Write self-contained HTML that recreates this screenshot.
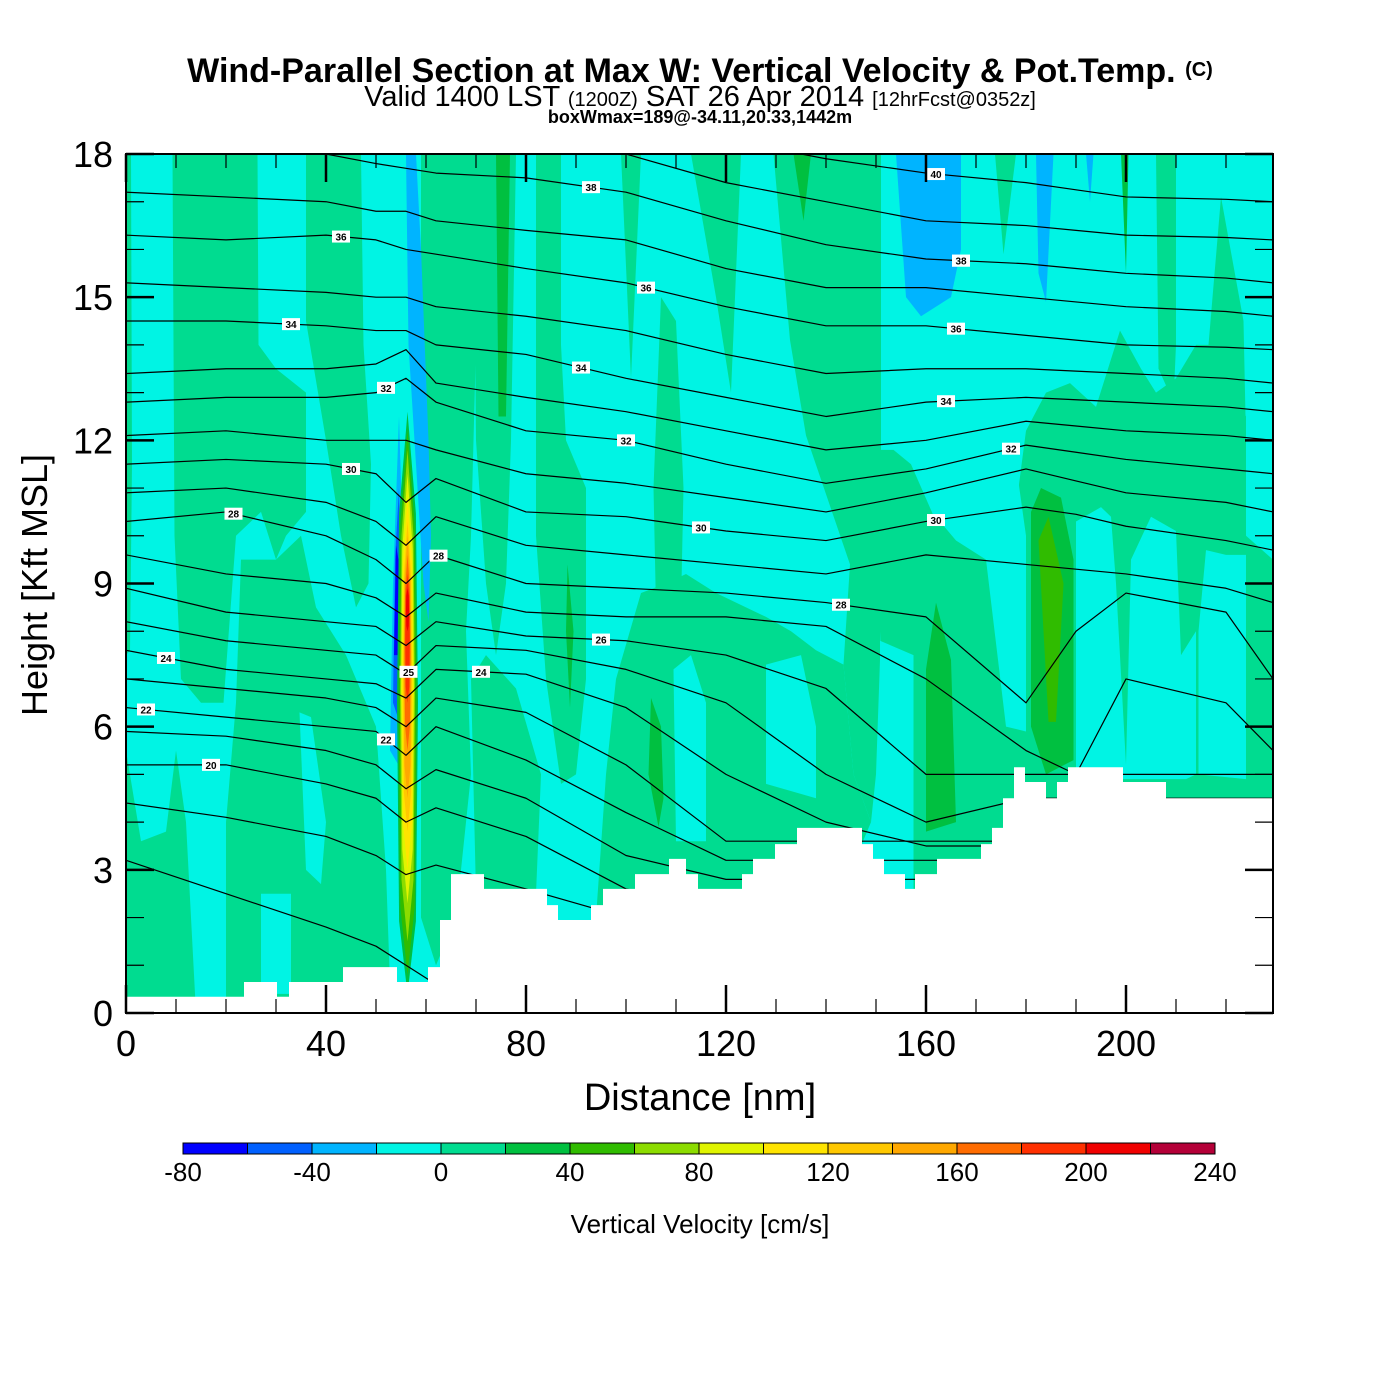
<!DOCTYPE html>
<html><head><meta charset="utf-8"><style>
html,body{margin:0;padding:0;background:#fff;}
svg{display:block;font-family:"Liberation Sans",sans-serif;}
</style></head><body>
<svg id="chart" width="1400" height="1400" viewBox="0 0 1400 1400" xmlns="http://www.w3.org/2000/svg">
<text x="700" y="82" text-anchor="middle" font-size="34" font-weight="bold">Wind-Parallel Section at Max W: Vertical Velocity &amp; Pot.Temp. <tspan font-size="20" dy="-6">(C)</tspan></text>
<text x="700" y="106" text-anchor="middle" font-size="29">Valid 1400 LST <tspan font-size="20">(1200Z)</tspan> SAT 26 Apr 2014 <tspan font-size="20">[12hrFcst@0352z]</tspan></text>
<text x="700" y="123" text-anchor="middle" font-size="18" font-weight="bold">boxWmax=189@-34.11,20.33,1442m</text>
<defs><clipPath id="plotclip"><rect x="126" y="154" width="1147" height="859"/></clipPath></defs>
<g id="field" clip-path="url(#plotclip)"></g>
<g id="contours" clip-path="url(#plotclip)"></g>
<g id="terrain" clip-path="url(#plotclip)"></g>
<g id="labels"></g>
<rect x="126" y="154" width="1147" height="859" fill="none" stroke="#000" stroke-width="2"/>
<g id="axes"></g>
<text x="700" y="1110" text-anchor="middle" font-size="38">Distance [nm]</text>
<text transform="translate(47,585) rotate(-90)" text-anchor="middle" font-size="36">Height [Kft MSL]</text>
<g id="colorbar"></g>
<text x="700" y="1233" text-anchor="middle" font-size="26">Vertical Velocity [cm/s]</text>
</svg>
<script>
const NS="http://www.w3.org/2000/svg";
const xMax=229.4, yMax=18;
const xTicks=[0,40,80,120,160,200];
const yTicks=[0,3,6,9,12,15,18];
const cbLevels=[-80,-60,-40,-20,0,20,40,60,80,100,120,140,160,180,200,220,240];
const cbColors=["#0000ff","#0060ff","#00b4ff","#00f4e4","#00dc90","#00c040","#30bc00","#8cdc00","#e0f400","#ffe400","#ffc800","#ffa800","#ff6c00","#ff3000","#f00000","#b40038"];
const cbTickValues=[-80,-40,0,40,80,120,160,200,240];
// terrain steps: edge distances (nm) and heights (kft)
const terrainEdges=[0,23.6,30.2,32.6,43.4,54.2,60.4,62.6,62.8,65,71.6,84.2,86.4,93,95.4,101.8,108.6,112,114.4,123.2,125.4,129.8,134.2,147.2,149.4,151.6,155.8,157.8,162.2,171,173.2,175.4,177.6,179.8,184,186.2,188.4,190.6,199.4,208,229.4];
const terrainHeights=[0.34,0.65,0.34,0.65,0.96,0.65,0.96,0.96,1.95,2.91,2.6,2.26,1.95,2.26,2.6,2.91,3.23,2.91,2.6,2.91,3.23,3.54,3.88,3.54,3.23,2.91,2.6,2.91,3.23,3.54,3.88,4.5,5.15,4.84,4.5,4.84,5.15,5.15,4.84,4.5];
// theta contour sample distances and heights per level
const thetaDist=[0,20,40,50,56,62,80,100,120,140,160,180,190,200,220,229.4];
const thetaLevels=[18,19,20,21,22,23,24,25,26,27,28,29,30,31,32,33,34,35,36,37,38,39,40];
const thetaHeights=[
[3.2,2.5,1.8,1.4,1.0,0.6,0,0,0,0,0,0,0,0,0,0],
[4.4,4.1,3.7,3.3,2.9,3.1,2.6,2.0,1.5,1.5,1.5,1.5,1.5,1.5,1.5,1.5],
[5.2,5.2,4.8,4.5,4.0,4.3,3.7,2.6,2.2,2.2,2.2,2.2,2.2,2.2,2.2,2.2],
[5.9,5.8,5.5,5.2,4.7,5.1,4.5,3.3,2.8,2.8,2.8,2.8,2.8,2.8,2.8,2.8],
[6.4,6.2,6.0,5.9,5.4,6.0,5.3,4.2,3.2,3.2,3.2,3.2,3.2,3.2,3.2,3.2],
[7.0,6.8,6.6,6.4,6.0,6.6,6.3,5.2,3.6,3.6,3.6,3.6,3.6,3.6,3.6,3.6],
[7.6,7.2,7.0,6.9,6.6,7.2,7.1,6.4,5.0,4.0,3.5,3.5,3.5,4.0,4.0,4.0],
[8.2,7.8,7.6,7.5,7.1,7.7,7.6,7.2,6.5,5.0,4.0,4.5,4.5,4.5,4.5,4.5],
[8.9,8.4,8.2,8.1,7.7,8.2,7.9,7.8,7.5,6.8,5.0,5.0,5.0,5.0,5.0,5.0],
[9.6,9.2,9.0,8.7,8.3,8.8,8.4,8.3,8.3,8.1,7.0,5.5,5.0,7.0,6.5,5.5],
[10.3,10.5,10.0,9.5,9.0,9.6,9.0,8.9,8.8,8.6,8.3,6.5,8.0,8.8,8.4,7.0],
[10.9,11.0,10.7,10.3,9.8,10.4,9.8,9.6,9.4,9.2,9.6,9.4,9.3,9.2,8.9,8.6],
[11.5,11.6,11.5,11.3,10.7,11.2,10.5,10.4,10.1,9.9,10.3,10.6,10.45,10.2,9.9,9.7],
[12.1,12.2,12.0,12.0,12.0,11.8,11.3,11.1,10.8,10.5,10.9,11.4,11.15,10.9,10.7,10.5],
[12.8,12.9,12.9,13.0,13.3,12.8,12.2,12.0,11.5,11.1,11.4,11.9,11.75,11.6,11.4,11.3],
[13.4,13.5,13.5,13.6,13.9,13.2,12.9,12.6,12.2,11.8,12.0,12.4,12.3,12.2,12.1,12.0],
[14.5,14.5,14.4,14.3,14.3,14.0,13.8,13.3,12.9,12.5,12.8,12.9,12.85,12.8,12.7,12.6],
[15.3,15.2,15.1,15.0,15.0,14.8,14.6,14.3,13.8,13.4,13.5,13.5,13.45,13.4,13.3,13.2],
[16.3,16.2,16.3,16.2,16.0,15.9,15.6,15.3,14.8,14.4,14.4,14.2,14.1,14.0,13.95,13.9],
[17.2,17.1,17.0,16.8,16.8,16.6,16.4,16.2,15.6,15.2,15.2,15.0,14.9,14.8,14.7,14.6],
[18.1,18.0,18.0,17.8,17.7,17.6,17.5,17.2,16.6,16.1,15.8,15.7,15.6,15.5,15.4,15.3],
[19,19,18.9,18.7,18.6,18.5,18.4,18.0,17.4,17.0,16.6,16.5,16.4,16.3,16.25,16.2],
[20,20,19.8,19.6,19.5,19.4,19.3,18.9,18.3,17.9,17.6,17.4,17.25,17.1,17.05,17.0]];
// contour labels: level and distance
const labelLevels=[20,22,24,28,30,32,34,36,38,40,38,36,34,32,30,28,26,24,28,32,34,36,38,30,22,25];
const labelDists=[17,4,8,21.5,45,52,33,43,93,162,167,166,164,177,162,143,95,71,62.5,100,91,104,167,115,52,56.5];
// velocity patches: value (cm/s) and polygon vertices [distance, height]
const patchValues=[10,10,10,10,10,10,10,10,10,10,10,10,10,10,10,10,10,10,
 -10,-10,-10,-10,-10,-10,-10,-10,
 -30,-30,-30,-30,-30,
 30,30,30,30,30,30,30,50];
const patchShapes=[
[[0,18],[1,18],[1.2,11.5],[0.8,7.6],[0,7.5]],
[[0,0],[0,5.5],[3,3.6],[8,3.8],[10,5.5],[12,4],[14,0]],
[[9.3,18],[26.3,18],[26.5,14],[30,13.5],[36,13],[36,10.5],[32,10],[30,9.5],[27,10.5],[22,10],[19.5,6.5],[15,6.5],[11,7],[9.7,10]],
[[20,0],[20,4],[22,6.5],[23,9.5],[27,9.5],[30,9.5],[35,10],[38,8.5],[44,7.5],[50,6],[52,3],[53,0]],
[[36,18],[47,18],[47.5,14],[49,11.5],[48.5,9],[46,8.5],[43,10],[40,12],[36,14.5]],
[[59,18],[70,18],[70,14],[69,10],[68,8],[69,5],[66,2],[62,1],[59,2]],
[[69.5,18],[78,18],[77,12],[76,9],[74,7.5],[72,9],[70,12]],
[[82,18],[87,18],[87,14],[88,12],[92,11],[92,7],[90,5],[87,4.8],[84,7],[82,10]],
[[69,7],[72,7.5],[78,6.8],[83,5],[82,2.5],[70,2.5]],
[[99,18],[103,18],[101,13.3]],
[[107,15],[110,14.5],[111.5,11],[111,8.5],[106,8.5],[105.5,11]],
[[113,18],[123,18],[121,13],[118,15]],
[[129.5,18],[151,18],[151,8],[150,5],[149,4],[145.5,5],[143.5,7.3],[144.8,9.4],[136,12.1],[132.8,14.1]],
[[94,2],[96,5],[98,7],[103,8.8],[108,9],[112,9.2],[118,8.8],[124,8.5],[128,8.3],[133,8],[138,7.6],[143.5,7.3],[145.5,5],[149,4],[145,3],[120,2.4]],
[[173.8,18],[178,18],[175.5,15.9]],
[[206,18],[210,18],[210,14],[209.5,12.8],[206.5,13.5]],
[[219,17.1],[216.5,14],[215,12.5],[224,12],[223.5,14.5]],
[[151,11.8],[153.5,11.8],[157,11.5],[162,10.3],[170,10.2],[178,10.6],[180,12.2],[184,13],[188.8,13.2],[194,12.7],[198.8,14.3],[203,13.5],[206,13],[210,13.3],[214,14],[217,14],[222,13],[224,12.5],[224,10],[229.4,9.5],[229.4,0],[151,0]],
[[34.7,6.3],[37,6.2],[40,4],[39,2.7],[36,3]],
[[27,2.5],[33,2.5],[33,0.4],[27,0.4]],
[[109.5,7.2],[113,7.5],[116,6.5],[116,3.6],[110,3.6]],
[[128,7.3],[135,7.5],[138,6],[138,4.5],[128,4.8]],
[[150.8,7.8],[157.5,7.5],[157.5,2.6],[150.8,2.6]],
[[162,10.4],[170,11],[178,11.5],[180,10],[180,5.9],[176,6],[172,9.5],[166,9.9]],
[[190,10.3],[195,10.6],[197,10.4],[198,9],[200,5.2],[201,9.5],[205,10.4],[210,10.1],[211,7.5],[214,8],[214,5],[212,4.9],[190,4.9]],
[[214.5,8],[216,9.7],[220,9.6],[224,9.6],[224,4.9],[214.5,5]],
[[154,18],[167,18],[167,16],[165,15],[159,14.6],[156,15]],
[[182,18],[185.5,18],[184,14.9],[182.5,15.5]],
[[192,18],[193.5,18],[192.8,17]],
[[56,18],[58,18],[59,16],[60.5,12],[61,10],[60.5,8.2],[59.5,9],[58,11.5],[56.5,14]],
[[52.8,5.5],[53.4,9],[54.6,12.5],[55.6,9],[55.6,5]],
[[160,3.8],[160,7.2],[162,8.6],[165,7.4],[166,4]],
[[181,6],[181,10.5],[183,11],[187,10.8],[189.5,9.5],[189.5,5.3],[184,5]],
[[74,18],[76.8,18],[76,12.5],[74.5,12.5]],
[[88.3,9.4],[89.5,8],[88.8,6.4],[88,8]],
[[105,6.6],[107,6],[107.5,4.5],[106.5,3.9],[104.5,5]],
[[133.5,18],[137,18],[135.5,16.6]],
[[199,18],[200.5,18],[200,15.5]],
[[182.5,9.9],[184.5,10.4],[187.5,9],[186,6.1],[184.5,6.1]]];
// updraft column core: value levels with half-width (nm) and vertical extent (kft)
const coreValues=[30,50,70,90,110,130,150,170,190,210];
const coreHalfWidth=[2.1,1.8,1.5,1.3,1.1,0.9,0.75,0.6,0.45,0.3];
const coreBottom=[0.4,0.8,1.5,2.3,3.0,3.8,4.5,5.5,6.5,8.0];
const coreTop=[12.6,12.2,11.8,11.3,10.8,10.3,10.0,9.6,9.2,8.9];
const coreDist=56.3;
// extra blue core on west flank
const westValues=[-50,-70];
const westShapes=[[[53.4,6.5],[53.8,9.5],[54.6,11],[55,8],[55,6]],[[53.6,7.5],[54.0,9.8],[54.5,9.5],[54.5,7.5]]];

const px=d=>126+d*(1147/xMax);
const py=h=>1013-h*(859/yMax);
function colorFor(v){for(let i=0;i<cbColors.length;i++){if(v>=cbLevels[i]&&v<cbLevels[i+1])return cbColors[i];}return cbColors[cbColors.length-1];}
function mk(tag,attrs,parent){const e=document.createElementNS(NS,tag);for(const k in attrs)e.setAttribute(k,attrs[k]);parent.appendChild(e);return e;}

const field=document.getElementById('field');
const bg=mk('rect',{x:126,y:154,width:1147,height:859,fill:colorFor(-10)},field);


patchShapes.forEach((shape,i)=>{
  const p=mk('polygon',{points:shape.map(q=>px(q[0])+','+py(q[1])).join(' '),fill:colorFor(patchValues[i])},field);
  
  
});
westShapes.forEach((shape,i)=>{
  const p=mk('polygon',{points:shape.map(q=>px(q[0])+','+py(q[1])).join(' '),fill:colorFor(westValues[i])},field);
  
  
});
coreValues.forEach((v,i)=>{
  const w=coreHalfWidth[i],b=coreBottom[i],t=coreTop[i],m=(b+t)/2;
  const pts=[[coreDist,t],[coreDist+w*0.8,t-(t-m)*0.35],[coreDist+w,m],[coreDist+w*0.8,b+(m-b)*0.25],[coreDist,b],[coreDist-w*0.8,b+(m-b)*0.25],[coreDist-w,m],[coreDist-w*0.8,t-(t-m)*0.35]];
  const p=mk('polygon',{points:pts.map(q=>px(q[0])+','+py(q[1])).join(' '),fill:colorFor(v)},field);
  
  
});

const cont=document.getElementById('contours');
function thetaAt(li,d){const hs=thetaHeights[li];for(let j=0;j<thetaDist.length-1;j++){if(d>=thetaDist[j]&&d<=thetaDist[j+1]){const f=(d-thetaDist[j])/(thetaDist[j+1]-thetaDist[j]);return hs[j]+f*(hs[j+1]-hs[j]);}}return hs[hs.length-1];}
thetaLevels.forEach((lv,li)=>{
  const pts=thetaDist.map((d,j)=>px(d)+','+py(thetaHeights[li][j])).join(' ');
  const l=mk('polyline',{points:pts,fill:'none',stroke:'#000','stroke-width':1.2,'stroke-linejoin':'round'},cont);
  
  
});

const ter=document.getElementById('terrain');
let tp=[[px(0),py(0)-2]];
terrainHeights.forEach((h,i)=>{tp.push([px(terrainEdges[i]),py(h)]);tp.push([px(terrainEdges[i+1]),py(h)]);});
tp.push([px(xMax),1020]);tp.push([px(0),1020]);
const tpoly=mk('polygon',{points:tp.map(q=>q[0]+','+q[1]).join(' '),fill:'#fff'},ter);



const lab=document.getElementById('labels');
labelLevels.forEach((lv,i)=>{
  const li=thetaLevels.indexOf(lv);
  const d=labelDists[i],x=px(d),y=py(thetaAt(li,d));
  const r=mk('rect',{x:x-9,y:y-6,width:18,height:12,fill:'#fff'},lab);
  
  
  const t=mk('text',{x:x,y:y+4,'text-anchor':'middle','font-size':10,'font-weight':'bold'},lab);
  t.textContent=lv;
  
  
});

const ax=document.getElementById('axes');
for(let d=0;d<=xMax;d+=10){
  const major=d%40===0, len=major?28:14;
  const a=mk('line',{x1:px(d),x2:px(d),y1:1013,y2:1013-len,stroke:'#000','stroke-width':major?2.5:1.2},ax);
  
  
  const b=mk('line',{x1:px(d),x2:px(d),y1:154,y2:154+len,stroke:'#000','stroke-width':major?2.5:1.2},ax);
  
  
}
xTicks.forEach(v=>{
  const t=mk('text',{x:px(v),y:1056,'text-anchor':'middle','font-size':36},ax);
  t.textContent=v;
  
  
});
for(let h=0;h<=yMax;h+=1){
  const major=h%3===0, len=major?28:18;
  const a=mk('line',{x1:126,x2:126+len,y1:py(h),y2:py(h),stroke:'#000','stroke-width':major?2.5:1.2},ax);
  
  
  const b=mk('line',{x1:1273,x2:1273-len,y1:py(h),y2:py(h),stroke:'#000','stroke-width':major?2.5:1.2},ax);
  
  
}
yTicks.forEach(v=>{
  const t=mk('text',{x:113,y:py(v)+13,'text-anchor':'end','font-size':36},ax);
  t.textContent=v;
  
  
});

const cb=document.getElementById('colorbar');
const cbX0=183,cbX1=1215,cbW=(cbX1-cbX0)/cbColors.length;
cbColors.forEach((c,i)=>{
  const r=mk('rect',{x:cbX0+i*cbW,y:1143,width:cbW,height:11,fill:c,stroke:'#000','stroke-width':1},cb);
  
  
});
cbTickValues.forEach(v=>{
  const x=cbX0+(v-cbLevels[0])/(cbLevels[cbLevels.length-1]-cbLevels[0])*(cbX1-cbX0);
  const t=mk('text',{x:x,y:1181,'text-anchor':'middle','font-size':26},cb);
  t.textContent=v;
  
  
});
</script>
</body></html>
